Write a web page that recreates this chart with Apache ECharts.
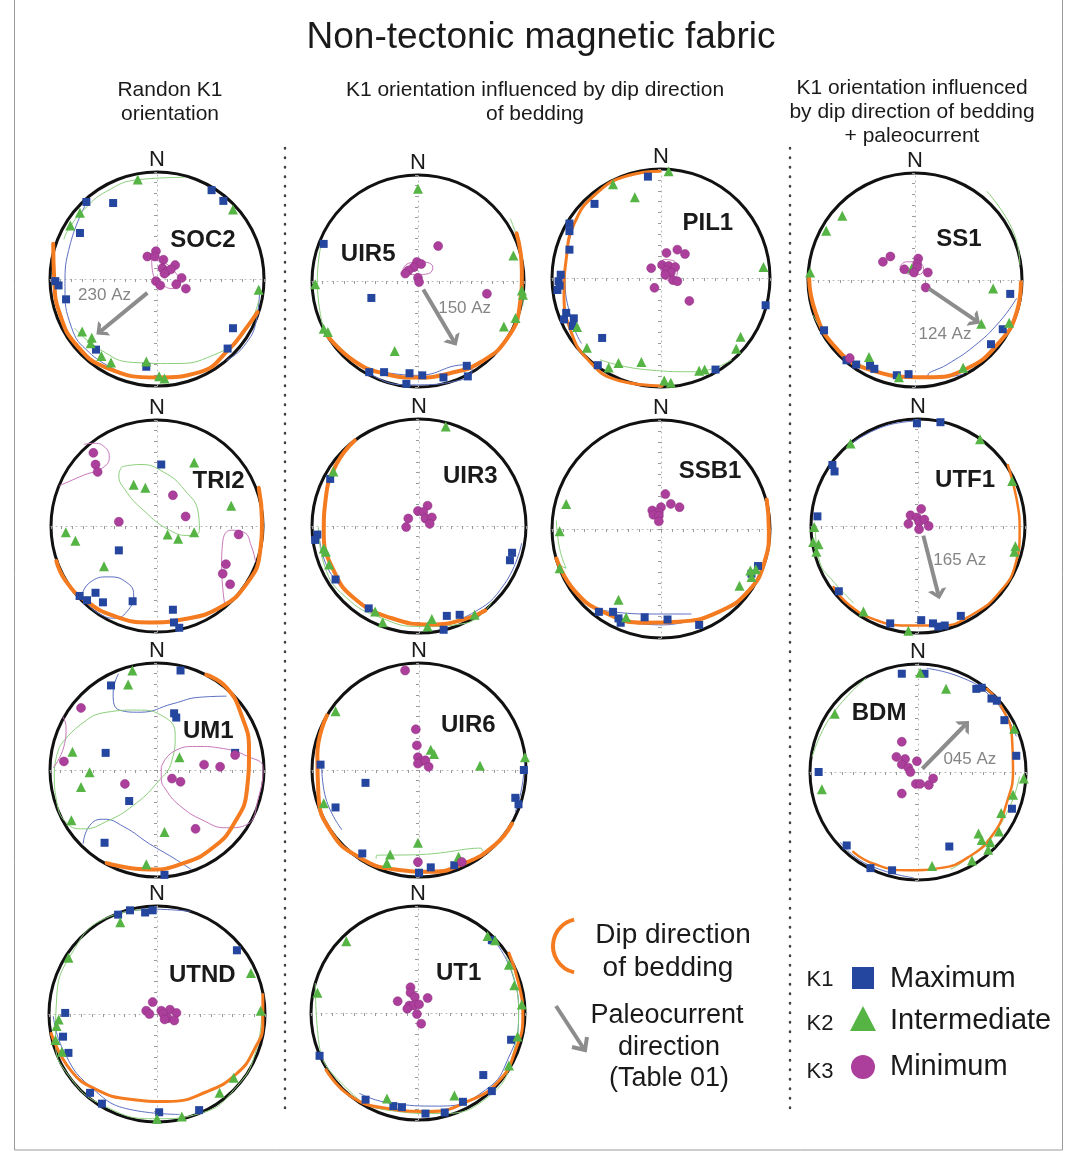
<!DOCTYPE html>
<html>
<head>
<meta charset="utf-8">
<script src="https://cdn.jsdelivr.net/npm/echarts@6/dist/echarts.min.js"></script>
<style>
  html, body { margin: 0; padding: 0; background: #fff; }
  #chart { width: 1074px; height: 1163px; }
</style>
</head>
<body>
<div id="chart"></div>
<script>
// points are [east, north] on the unit stereonet
// K1 = maximum, K2 = intermediate, K3 = minimum, BED = dip direction of bedding, CONF = thin confidence curves

const SOC2_K1 = [[0.51,0.83],[0.62,0.73],[-0.66,0.72],[-0.41,0.71],[-0.72,0.43],[-0.95,-0.02],[-0.92,-0.06],[-0.85,-0.19],[0.71,-0.46],[0.66,-0.65],[-0.57,-0.66],[-0.10,-0.82]]
const SOC2_K2 = [[-0.18,0.93],[0.71,0.65],[-0.72,0.62],[-0.81,0.50],[0.95,-0.10],[-0.70,-0.49],[-0.61,-0.55],[-0.62,-0.60],[-0.52,-0.72],[-0.43,-0.78],[-0.10,-0.77],[0.02,-0.91],[0.07,-0.93]]
const SOC2_K3 = [[-0.01,0.26],[-0.09,0.21],[-0.02,0.21],[0.06,0.18],[0.17,0.13],[0.05,0.10],[0.09,0.07],[0.13,0.09],[0.07,0.05],[0.23,0.01],[-0.01,-0.02],[0.03,-0.06],[0.18,-0.05],[0.27,-0.09]]
const SOC2_BED = [[-0.97,0.33],[-0.96,-0.01],[-0.91,-0.32],[-0.75,-0.62],[-0.47,-0.83],[0.0,-0.92],[0.40,-0.87],[0.67,-0.66],[0.84,-0.45],[0.94,-0.31]]
const SOC2_K1_CONF = [[[-0.66,0.71],[-0.81,0.33],[-0.86,-0.07],[-0.80,-0.45],[-0.63,-0.69],[-0.38,-0.85]],[[0.96,-0.07],[0.93,-0.38],[0.81,-0.63],[0.65,-0.76]]]
const SOC2_K2_CONF = [[[0.25,0.95],[-0.16,0.93],[-0.47,0.82],[-0.69,0.64],[-0.83,0.46],[-0.87,0.37]],[[-0.77,-0.46],[-0.53,-0.66],[-0.22,-0.78],[0.15,-0.79],[0.53,-0.71],[0.81,-0.51],[0.95,-0.20]]]
const SOC2_K3_CONF = [[[-0.05,0.18],[0.05,0.16],[0.18,0.05],[0.22,-0.04],[0.15,-0.09],[0.05,-0.05],[-0.04,0.06],[-0.05,0.18]]]
const SOC2_ARROW = [[-0.09,-0.13],[-0.53,-0.49]]
const SOC2_AZ = 230

const UIR5_K1 = [[-0.89,0.35],[-0.44,-0.16],[-0.46,-0.86],[-0.32,-0.86],[-0.08,-0.87],[0.04,-0.89],[0.24,-0.91],[0.46,-0.80],[0.47,-0.90],[-0.11,-0.97]]
const UIR5_K2 = [[0.00,0.87],[-0.97,-0.03],[0.90,0.24],[0.98,-0.09],[0.99,-0.13],[0.92,-0.35],[0.81,-0.43],[-0.89,-0.45],[-0.85,-0.48],[-0.22,-0.66]]
const UIR5_K3 = [[0.19,0.33],[0.65,-0.12],[-0.01,0.18],[0.03,0.16],[-0.04,0.13],[-0.09,0.10],[-0.12,0.07],[0.00,0.03],[0.01,-0.01]]
const UIR5_BED = [[0.93,0.45],[0.98,0.09],[0.96,-0.23],[0.85,-0.53],[0.60,-0.76],[0.30,-0.87],[-0.01,-0.91],[-0.33,-0.87],[-0.61,-0.75],[-0.86,-0.51]]
const UIR5_K1_CONF = [[[-0.47,-0.83],[-0.01,-0.89],[0.46,-0.79],[0.51,-0.81],[0.46,-0.92],[-0.11,-0.98],[-0.45,-0.88],[-0.47,-0.83]]]
const UIR5_K2_CONF = [[[-0.91,0.37],[-0.95,0.0],[-0.89,-0.46]],[[0.87,0.59],[0.98,0.15],[0.99,-0.23]]]
const UIR5_K3_CONF = [[[-0.14,0.12],[-0.08,0.17],[0.04,0.18],[0.14,0.13],[0.10,0.07],[-0.02,0.06],[-0.12,0.08],[-0.14,0.12]]]
const UIR5_ARROW = [[0.05,-0.08],[0.34,-0.57]]
const UIR5_AZ = 150

const PIL1_K1 = [[-0.12,0.93],[-0.61,0.68],[-0.84,0.50],[-0.84,0.43],[-0.84,0.26],[-0.92,0.03],[-0.94,-0.03],[-0.93,-0.07],[-0.95,-0.11],[-0.87,-0.32],[-0.89,-0.38],[-0.80,-0.37],[-0.81,-0.44],[-0.54,-0.55],[-0.58,-0.80],[0.50,-0.84],[0.96,-0.25]]
const PIL1_K2 = [[0.07,0.98],[-0.44,0.86],[-0.24,0.74],[0.94,0.10],[-0.77,-0.45],[-0.68,-0.64],[-0.48,-0.82],[-0.39,-0.78],[-0.18,-0.77],[0.03,-0.94],[0.09,-0.96],[0.35,-0.85],[0.40,-0.84],[0.69,-0.65],[0.73,-0.54]]
const PIL1_K3 = [[0.05,0.23],[0.15,0.26],[0.22,0.22],[-0.09,0.09],[0.01,0.12],[0.07,0.11],[0.13,0.10],[0.05,0.07],[0.09,0.05],[0.04,0.03],[0.11,-0.02],[0.15,-0.03],[-0.06,-0.09],[0.26,-0.21]]
const PIL1_BED = [[-0.01,0.98],[-0.30,0.94],[-0.61,0.76],[-0.80,0.49],[-0.87,0.17],[-0.89,-0.14],[-0.83,-0.48],[-0.67,-0.75],[-0.39,-0.94],[0.01,-0.99]]
const PIL1_K1_CONF = [[[-0.79,0.53],[-0.88,0.01],[-0.82,-0.39],[-0.73,-0.60]]]
const PIL1_K2_CONF = [[[-0.56,-0.75],[-0.15,-0.84],[0.31,-0.86],[0.65,-0.75]]]
const PIL1_K3_CONF = [[[0.02,0.17],[0.13,0.15],[0.15,0.05],[0.08,-0.02],[0.01,0.02],[0.0,0.12],[0.02,0.17]]]

const SS1_K1 = [[0.89,-0.13],[0.82,-0.46],[0.71,-0.60],[-0.85,-0.47],[-0.64,-0.75],[-0.55,-0.79],[-0.42,-0.80],[-0.38,-0.83],[-0.17,-0.89],[-0.06,-0.88]]
const SS1_K2 = [[-0.68,0.60],[-0.83,0.46],[-0.98,0.07],[-0.03,0.11],[0.73,-0.08],[0.62,-0.41],[0.88,-0.40],[-0.43,-0.72],[-0.15,-0.91],[0.45,-0.82]]
const SS1_K3 = [[-0.30,0.17],[-0.23,0.22],[0.03,0.20],[0.02,0.15],[0.02,0.12],[-0.10,0.10],[-0.01,0.07],[0.12,0.07],[0.10,-0.07],[-0.61,-0.73]]
const SS1_BED = [[-0.99,0.02],[-0.93,-0.30],[-0.76,-0.61],[-0.45,-0.83],[0.11,-0.91],[0.48,-0.83],[0.79,-0.58],[0.95,-0.30],[0.99,-0.02]]
const SS1_K1_CONF = [[[0.95,-0.17],[0.79,-0.39],[0.55,-0.62],[0.30,-0.79],[0.12,-0.89],[0.23,-0.91],[0.45,-0.88]]]
const SS1_K2_CONF = [[[0.67,0.83],[0.92,0.45],[0.98,0.14]],[[-0.95,-0.33],[-0.70,-0.67],[-0.30,-0.87]]]
const SS1_K3_CONF = [[[-0.14,0.13],[-0.08,0.17],[0.02,0.17],[0.08,0.10],[0.03,0.05],[-0.08,0.06],[-0.14,0.13]]]
const SS1_ARROW = [[0.13,-0.08],[0.57,-0.38]]
const SS1_AZ = 124

const TRI2_K1 = [[0.04,0.58],[-0.36,-0.23],[-0.58,-0.63],[-0.73,-0.66],[-0.66,-0.70],[-0.51,-0.72],[-0.23,-0.71],[0.15,-0.79],[0.16,-0.91],[0.21,-0.96]]
const TRI2_K2 = [[0.35,0.60],[-0.22,0.39],[-0.11,0.36],[0.70,0.19],[-0.86,-0.06],[-0.77,-0.14],[0.10,-0.08],[0.20,-0.12],[0.35,-0.06],[-0.50,-0.38]]
const TRI2_K3 = [[-0.60,0.69],[-0.58,0.58],[-0.56,0.51],[0.15,0.29],[0.27,0.09],[-0.36,0.04],[0.77,-0.08],[0.65,-0.36],[0.62,-0.45],[0.69,-0.55]]
const TRI2_BED = [[0.96,0.36],[0.99,0.06],[0.97,-0.26],[0.85,-0.54],[0.61,-0.76],[0.25,-0.88],[-0.07,-0.91],[-0.40,-0.85],[-0.68,-0.70],[-0.86,-0.52],[-0.95,-0.33]]
const TRI2_K1_CONF = [[[-0.71,-0.65],[-0.63,-0.53],[-0.46,-0.48],[-0.29,-0.53],[-0.22,-0.65],[-0.27,-0.79],[-0.40,-0.87],[-0.54,-0.83],[-0.66,-0.73],[-0.71,-0.65]]]
const TRI2_K2_CONF = [[[-0.33,0.56],[-0.16,0.58],[0.06,0.51],[0.26,0.34],[0.39,0.12],[0.40,-0.04],[0.31,-0.09],[0.12,-0.04],[-0.13,0.15],[-0.30,0.34],[-0.36,0.48],[-0.33,0.56]]]
const TRI2_K3_CONF = [[[-0.92,0.38],[-0.69,0.48],[-0.51,0.55],[-0.45,0.65],[-0.50,0.75],[-0.60,0.78],[-0.69,0.77]],[[0.64,-0.75],[0.61,-0.38],[0.62,-0.15],[0.70,-0.04],[0.82,-0.06],[0.89,-0.19],[0.93,-0.34]]]

const UIR3_K1 = [[-0.83,0.44],[-0.95,-0.08],[-0.97,-0.13],[-0.78,-0.50],[-0.47,-0.77],[0.87,-0.25],[0.85,-0.32],[0.26,-0.84],[0.38,-0.83],[0.23,-0.97]]
const UIR3_K2 = [[0.25,0.93],[-0.80,0.51],[-0.89,-0.21],[-0.87,-0.24],[-0.84,-0.36],[-0.41,-0.80],[-0.34,-0.90],[0.12,-0.87],[0.08,-0.94],[0.52,-0.83]]
const UIR3_K3 = [[0.08,0.19],[-0.01,0.14],[0.04,0.13],[-0.10,0.07],[0.06,0.07],[0.12,0.08],[0.10,0.02],[-0.12,-0.01]]
const UIR3_BED = [[-0.60,0.80],[-0.77,0.58],[-0.87,0.27],[-0.89,-0.07],[-0.80,-0.41],[-0.60,-0.68],[-0.26,-0.86],[0.12,-0.92],[0.43,-0.87],[0.62,-0.79]]
const UIR3_K1_CONF = [[[0.96,-0.16],[0.80,-0.54],[0.49,-0.82],[0.12,-0.93]],[[-0.94,-0.02],[-0.86,-0.38],[-0.67,-0.62]]]
const UIR3_K2_CONF = [[[-0.94,-0.01],[-0.88,-0.38],[-0.69,-0.66],[-0.35,-0.86],[0.02,-0.94],[0.43,-0.91],[0.68,-0.71]]]

const SSB1_K1 = [[-0.57,-0.76],[-0.44,-0.76],[-0.39,-0.82],[-0.37,-0.86],[-0.15,-0.81],[0.06,-0.83],[0.35,-0.88],[0.83,-0.41],[0.89,-0.34]]
const SSB1_K2 = [[-0.87,0.23],[-0.93,-0.02],[-0.93,-0.36],[-0.39,-0.65],[-0.32,-0.81],[0.72,-0.52],[0.82,-0.38],[0.87,-0.37],[0.83,-0.44]]
const SSB1_K3 = [[0.04,0.32],[0.09,0.23],[0.17,0.20],[0.00,0.20],[-0.08,0.17],[-0.02,0.15],[-0.07,0.13],[-0.02,0.12],[-0.02,0.07]]
const SSB1_BED = [[0.97,0.27],[0.99,-0.02],[0.95,-0.30],[0.81,-0.56],[0.53,-0.76],[0.16,-0.85],[-0.15,-0.86],[-0.51,-0.77],[-0.79,-0.57],[-0.96,-0.27]]
const SSB1_K1_CONF = [[[-0.57,-0.74],[-0.15,-0.78],[0.28,-0.78]],[[-0.36,-0.85],[0.01,-0.88],[0.31,-0.83]]]
const SSB1_K2_CONF = [[[-0.96,0.08],[-0.93,-0.18],[-0.87,-0.36],[-0.94,-0.33]]]

const UTF1_K1 = [[-0.01,0.96],[0.21,0.97],[-0.80,0.57],[-0.78,0.51],[-0.94,0.09],[-0.74,-0.61],[-0.26,-0.91],[0.03,-0.88],[0.14,-0.91],[0.19,-0.94],[0.25,-0.93],[0.40,-0.84]]
const UTF1_K2 = [[-0.63,0.77],[0.58,0.81],[0.88,0.42],[0.91,-0.19],[0.90,-0.24],[-0.97,-0.01],[-0.98,-0.15],[-0.93,-0.17],[-0.95,-0.24],[-0.51,-0.80],[-0.09,-0.98]]
const UTF1_K3 = [[0.03,0.16],[-0.07,0.10],[-0.01,0.08],[-0.09,0.02],[0.01,0.04],[0.06,0.06],[0.10,0.00],[0.01,-0.03]]
const UTF1_BED = [[0.84,0.57],[0.92,0.26],[0.95,-0.05],[0.91,-0.36],[0.77,-0.61],[0.52,-0.82],[0.21,-0.93],[-0.11,-0.93],[-0.39,-0.88],[-0.64,-0.74],[-0.79,-0.57]]
const UTF1_K1_CONF = [[[-0.64,0.76],[-0.32,0.93],[-0.01,0.98]]]
const UTF1_K2_CONF = [[[-0.96,-0.02],[-0.92,-0.33],[-0.79,-0.52],[-0.60,-0.72]],[[0.91,-0.15],[0.92,-0.33]]]
const UTF1_ARROW = [[0.05,-0.09],[0.19,-0.64]]
const UTF1_AZ = 165

const UM1_K1 = [[0.22,0.93],[-0.43,0.79],[0.16,0.53],[0.18,0.49],[-0.48,0.16],[0.73,0.16],[-0.26,-0.29],[-0.49,-0.68],[0.07,-0.98]]
const UM1_K2 = [[-0.23,0.93],[-0.27,0.80],[-0.79,0.17],[-0.63,-0.02],[-0.71,-0.16],[0.21,0.12],[-0.80,-0.47],[0.07,-0.58],[-0.10,-0.88]]
const UM1_K3 = [[-0.71,0.58],[-0.87,0.08],[-0.30,-0.13],[0.14,-0.08],[0.22,-0.11],[0.44,0.05],[0.59,0.03],[0.73,0.14],[0.36,-0.55]]
const UM1_BED = [[0.46,0.89],[0.65,0.77],[0.79,0.51],[0.86,0.19],[0.84,-0.19],[0.72,-0.50],[0.53,-0.72],[0.25,-0.87],[-0.07,-0.93],[-0.47,-0.87]]
const UM1_K1_CONF = [[[-0.36,0.90],[-0.41,0.72],[-0.35,0.56],[-0.16,0.54],[0.15,0.62],[0.40,0.68],[0.65,0.69]],[[-0.69,-0.69],[-0.63,-0.52],[-0.50,-0.46],[-0.31,-0.53],[-0.07,-0.69],[0.15,-0.82],[0.32,-0.93]]]
const UM1_K2_CONF = [[[-0.91,0.22],[-0.72,0.42],[-0.47,0.54],[-0.19,0.56],[0.06,0.50],[0.17,0.33],[0.14,0.09],[0.00,-0.12],[-0.22,-0.33],[-0.47,-0.48],[-0.69,-0.55],[-0.84,-0.50],[-0.94,-0.28],[-0.96,-0.03],[-0.91,0.22]]]
const UM1_K3_CONF = [[[0.04,0.03],[0.15,0.17],[0.37,0.22],[0.62,0.20],[0.84,0.13],[0.99,0.02],[0.95,-0.25],[0.84,-0.51],[0.65,-0.54],[0.43,-0.47],[0.21,-0.33],[0.08,-0.18],[0.04,-0.08],[0.04,0.03]],[[-0.97,0.02],[-0.87,0.22],[-0.85,0.40],[-0.88,0.50]]]

const UIR6_K1 = [[-0.92,0.05],[-0.50,-0.12],[-0.78,-0.35],[0.98,0.00],[0.90,-0.26],[0.93,-0.32],[-0.53,-0.78],[0.00,-0.96],[0.11,-0.91],[0.33,-0.89]]
const UIR6_K2 = [[-0.78,0.55],[0.11,0.19],[0.14,0.15],[0.57,0.04],[0.99,0.12],[-0.89,-0.31],[-0.01,-0.68],[-0.27,-0.79],[-0.30,-0.87],[0.37,-0.81]]
const UIR6_K3 = [[-0.13,0.93],[-0.03,0.38],[-0.02,0.23],[-0.01,0.12],[0.02,0.08],[-0.01,0.06],[0.06,0.09],[0.09,0.03],[-0.01,-0.86],[0.40,-0.86]]
const UIR6_BED = [[-0.86,0.51],[-0.95,0.14],[-0.94,-0.23],[-0.82,-0.58],[-0.57,-0.81],[-0.22,-0.93],[0.12,-0.95],[0.43,-0.87],[0.71,-0.70],[0.87,-0.50]]
const UIR6_K1_CONF = [[[-0.91,0.05],[-0.88,-0.23],[-0.72,-0.56]],[[0.99,0.11],[0.96,-0.17],[0.90,-0.39]]]
const UIR6_K2_CONF = [[[-0.40,-0.83],[-0.40,-0.80],[0.02,-0.79],[0.58,-0.73],[0.59,-0.76]]]

const BDM_K1 = [[-0.15,0.91],[0.06,0.91],[0.54,0.77],[0.59,0.78],[0.68,0.68],[0.73,0.66],[0.80,0.48],[0.91,0.15],[-0.92,0.00],[0.87,-0.34],[0.29,-0.69],[-0.66,-0.68],[-0.44,-0.89],[-0.24,-0.91]]
const BDM_K2 = [[0.02,0.92],[0.26,0.77],[-0.77,0.54],[0.89,0.40],[0.98,-0.06],[-0.89,-0.16],[0.88,-0.21],[0.77,-0.38],[0.75,-0.55],[0.56,-0.57],[0.59,-0.63],[0.67,-0.65],[0.65,-0.72],[0.50,-0.82],[0.13,-0.87]]
const BDM_K3 = [[-0.15,0.28],[-0.20,0.14],[-0.12,0.12],[-0.01,0.10],[-0.15,0.07],[-0.09,0.04],[-0.07,0.00],[-0.02,-0.11],[0.02,-0.11],[0.10,-0.12],[0.14,-0.06],[-0.15,-0.20]]
const BDM_BED = [[0.64,0.77],[0.78,0.59],[0.87,0.32],[0.88,0.02],[0.82,-0.29],[0.70,-0.57],[0.48,-0.78],[0.20,-0.89],[-0.10,-0.91],[-0.41,-0.85],[-0.60,-0.74]]
const BDM_K1_CONF = [[[0.08,0.96],[0.39,0.88],[0.64,0.73],[0.82,0.51],[0.91,0.33]],[[-0.72,-0.65],[-0.48,-0.85],[-0.04,-0.98]]]
const BDM_K2_CONF = [[[-0.98,0.14],[-0.81,0.51],[-0.48,0.87]],[[0.94,-0.04],[0.85,-0.32],[0.67,-0.60],[0.39,-0.85],[0.30,-0.90]]]
const BDM_ARROW = [[0.04,0.03],[0.44,0.44]]
const BDM_AZ = 45

const UTND_K1 = [[-0.36,0.92],[-0.25,0.96],[-0.11,0.94],[-0.04,0.96],[0.74,0.59],[-0.85,0.01],[-0.87,-0.21],[-0.82,-0.36],[-0.62,-0.73],[-0.51,-0.83],[0.02,-0.91],[0.39,-0.89]]
const UTND_K2 = [[-0.34,0.85],[-0.82,0.52],[0.87,0.38],[0.96,0.03],[-0.91,-0.05],[-0.93,-0.11],[-0.94,-0.24],[-0.88,-0.35],[0.71,-0.59],[0.58,-0.73],[0.23,-0.95],[0.00,-0.97]]
const UTND_K3 = [[-0.04,0.11],[-0.10,0.03],[-0.07,0.00],[0.04,0.03],[0.12,0.04],[0.18,0.01],[0.06,0.00],[0.10,-0.04],[0.07,-0.05],[0.16,-0.06]]
const UTND_BED = [[0.98,0.18],[0.98,-0.09],[0.90,-0.33],[0.74,-0.55],[0.46,-0.72],[0.09,-0.81],[-0.25,-0.79],[-0.56,-0.70],[-0.80,-0.52],[-0.98,-0.18]]
const UTND_K1_CONF = [[[-0.37,0.93],[-0.03,0.97],[0.31,0.95]],[[-0.96,-0.02],[-0.87,-0.33],[-0.62,-0.67],[-0.22,-0.89],[0.21,-0.93]]]
const UTND_K2_CONF = [[[-0.06,0.97],[-0.47,0.89],[-0.79,0.56],[-0.93,0.13],[-0.94,-0.24],[-0.81,-0.58],[-0.47,-0.86],[0.00,-0.97],[0.40,-0.92],[0.74,-0.67],[0.92,-0.33],[0.97,0.01]]]

const UT1_K1 = [[0.69,0.68],[0.87,-0.25],[0.61,-0.58],[0.69,-0.73],[0.42,-0.83],[-0.92,-0.40],[-0.49,-0.81],[-0.23,-0.87],[-0.15,-0.88],[0.07,-0.94],[0.25,-0.93]]
const UT1_K2 = [[0.65,0.72],[0.72,0.68],[-0.67,0.67],[0.85,0.45],[0.90,0.26],[0.97,0.08],[0.93,-0.22],[0.85,-0.49],[-0.94,0.19],[-0.29,-0.80],[0.34,-0.77]]
const UT1_K3 = [[-0.07,0.24],[-0.07,0.19],[-0.19,0.11],[-0.03,0.15],[0.09,0.14],[-0.08,0.07],[-0.04,0.07],[0.01,0.08],[-0.10,0.04],[-0.01,-0.01],[0.03,-0.10]]
const UT1_BED = [[0.85,0.56],[0.94,0.28],[0.98,-0.03],[0.91,-0.35],[0.76,-0.63],[0.48,-0.82],[0.10,-0.92],[-0.30,-0.89],[-0.64,-0.77],[-0.86,-0.53]]
const UT1_K1_CONF = [[[0.69,0.71],[0.88,0.37],[0.94,-0.03],[0.85,-0.41],[0.63,-0.72],[0.20,-0.87],[-0.27,-0.84],[-0.55,-0.75]]]
const UT1_K2_CONF = [[[-0.96,0.28],[-0.93,-0.25],[-0.68,-0.69],[-0.27,-0.91],[0.20,-0.94],[0.66,-0.78],[0.88,-0.41],[0.94,0.06],[0.82,0.53]]]

// layout of each stereonet on the page (pixels) and where its labels sit (unit coords)
const NETS = [
  { id: 'SOC2', cx: 157, cy: 279, r: 107, bedW: 4, tag: [0.43, 0.36], azTag: [-0.49, -0.15], k1: SOC2_K1, k2: SOC2_K2, k3: SOC2_K3, bed: SOC2_BED, c1: SOC2_K1_CONF, c2: SOC2_K2_CONF, c3: SOC2_K3_CONF, arrow: SOC2_ARROW, az: SOC2_AZ },
  { id: 'UIR5', cx: 418, cy: 281, r: 106, bedW: 4, tag: [-0.47, 0.25], azTag: [0.44, -0.26], k1: UIR5_K1, k2: UIR5_K2, k3: UIR5_K3, bed: UIR5_BED, c1: UIR5_K1_CONF, c2: UIR5_K2_CONF, c3: UIR5_K3_CONF, arrow: UIR5_ARROW, az: UIR5_AZ },
  { id: 'PIL1', cx: 661, cy: 278, r: 109, bedW: 3, tag: [0.43, 0.50], k1: PIL1_K1, k2: PIL1_K2, k3: PIL1_K3, bed: PIL1_BED, c1: PIL1_K1_CONF, c2: PIL1_K2_CONF, c3: PIL1_K3_CONF },
  { id: 'SS1', cx: 915, cy: 280, r: 107, bedW: 4, tag: [0.41, 0.38], azTag: [0.28, -0.51], k1: SS1_K1, k2: SS1_K2, k3: SS1_K3, bed: SS1_BED, c1: SS1_K1_CONF, c2: SS1_K2_CONF, c3: SS1_K3_CONF, arrow: SS1_ARROW, az: SS1_AZ },
  { id: 'TRI2', cx: 157, cy: 526, r: 106, bedW: 4, tag: [0.58, 0.42], k1: TRI2_K1, k2: TRI2_K2, k3: TRI2_K3, bed: TRI2_BED, c1: TRI2_K1_CONF, c2: TRI2_K2_CONF, c3: TRI2_K3_CONF },
  { id: 'UIR3', cx: 419, cy: 526, r: 107, bedW: 4, tag: [0.48, 0.46], k1: UIR3_K1, k2: UIR3_K2, k3: UIR3_K3, bed: UIR3_BED, c1: UIR3_K1_CONF, c2: UIR3_K2_CONF },
  { id: 'SSB1', cx: 661, cy: 529, r: 109, bedW: 4, tag: [0.45, 0.53], k1: SSB1_K1, k2: SSB1_K2, k3: SSB1_K3, bed: SSB1_BED, c1: SSB1_K1_CONF, c2: SSB1_K2_CONF },
  { id: 'UTF1', cx: 918, cy: 526, r: 107, bedW: 2.5, tag: [0.44, 0.43], azTag: [0.39, -0.32], k1: UTF1_K1, k2: UTF1_K2, k3: UTF1_K3, bed: UTF1_BED, c1: UTF1_K1_CONF, c2: UTF1_K2_CONF, arrow: UTF1_ARROW, az: UTF1_AZ },
  { id: 'UM1', cx: 157, cy: 770, r: 107, bedW: 4, tag: [0.48, 0.36], k1: UM1_K1, k2: UM1_K2, k3: UM1_K3, bed: UM1_BED, c1: UM1_K1_CONF, c2: UM1_K2_CONF, c3: UM1_K3_CONF },
  { id: 'UIR6', cx: 419, cy: 770, r: 107, bedW: 4, tag: [0.46, 0.42], k1: UIR6_K1, k2: UIR6_K2, k3: UIR6_K3, bed: UIR6_BED, c1: UIR6_K1_CONF, c2: UIR6_K2_CONF },
  { id: 'BDM', cx: 918, cy: 772, r: 108, bedW: 2.5, tag: [-0.36, 0.54], azTag: [0.48, 0.12], k1: BDM_K1, k2: BDM_K2, k3: BDM_K3, bed: BDM_BED, c1: BDM_K1_CONF, c2: BDM_K2_CONF, arrow: BDM_ARROW, az: BDM_AZ },
  { id: 'UTND', cx: 157, cy: 1014, r: 108, bedW: 3, tag: [0.42, 0.36], k1: UTND_K1, k2: UTND_K2, k3: UTND_K3, bed: UTND_BED, c1: UTND_K1_CONF, c2: UTND_K2_CONF },
  { id: 'UT1', cx: 418, cy: 1013, r: 107, bedW: 3, tag: [0.38, 0.37], k1: UT1_K1, k2: UT1_K2, k3: UT1_K3, bed: UT1_BED, c1: UT1_K1_CONF, c2: UT1_K2_CONF }
]

const BLUE = '#24469e'
const GREEN = '#55b444'
const MAGENTA = '#ac3f9c'
const ORANGE = '#f47b20'
const GRAY = '#8c8c8c'
const THIN = { 1: '#5b6fc2', 2: '#8ccf7c', 3: '#c777ba' }
const FONT = "'Liberation Sans', Arial, Helvetica, sans-serif"
const CHEVRON = 'path://M10,0 L20,10 L15,10 L10,5 L5,10 L0,10 Z'

const grid = []
const xAxis = []
const yAxis = []
const polar = []
const angleAxis = []
const radiusAxis = []
const series = []

function axisOf (i) {
  return {
    gridIndex: i,
    type: 'value',
    min: -1,
    max: 1,
    interval: 0.1,
    axisLine: { onZero: true, lineStyle: { color: '#b8b8b8', width: 1, type: [1, 4] } },
    axisTick: { show: true, length: 3, lineStyle: { color: '#9a9a9a', width: 1 } },
    axisLabel: { show: false },
    splitLine: { show: false }
  }
}

function textSeries (i, pt, text, style) {
  return {
    type: 'scatter',
    xAxisIndex: i,
    yAxisIndex: i,
    silent: true,
    z: 8,
    symbolSize: 1,
    itemStyle: { color: 'rgba(0,0,0,0)', opacity: 1 },
    label: Object.assign({ show: true, position: 'inside', formatter: text, fontFamily: FONT, opacity: 1 }, style),
    data: [pt]
  }
}

NETS.forEach((n, i) => {
  grid.push({ left: n.cx - n.r, top: n.cy - n.r, width: 2 * n.r, height: 2 * n.r })
  xAxis.push(axisOf(i))
  yAxis.push(axisOf(i))
  polar.push({ center: [n.cx, n.cy], radius: n.r })
  angleAxis.push({
    polarIndex: i, type: 'value', min: 0, max: 360, startAngle: 90,
    axisLine: { lineStyle: { color: '#111', width: 3 } },
    axisTick: { show: false }, axisLabel: { show: false }, splitLine: { show: false }
  })
  radiusAxis.push({ polarIndex: i, type: 'value', min: 0, max: 1, show: false })

  // thin confidence curves
  ;[[n.c1, 1], [n.c2, 2], [n.c3, 3]].forEach(([segs, k]) => {
    (segs || []).forEach(seg => {
      series.push({
        type: 'line', xAxisIndex: i, yAxisIndex: i, data: seg, smooth: 0.5,
        showSymbol: false, symbol: 'none', silent: true, z: 2,
        lineStyle: { color: THIN[k], width: 1 }
      })
    })
  })

  // dip direction of bedding
  series.push({
    type: 'line', xAxisIndex: i, yAxisIndex: i, data: n.bed, smooth: 0.5,
    showSymbol: false, symbol: 'none', silent: true, z: 3,
    lineStyle: { color: ORANGE, width: n.bedW, cap: 'round' }
  })

  // paleocurrent arrow
  if (n.arrow) {
    const dx = n.arrow[1][0] - n.arrow[0][0]
    const dy = n.arrow[1][1] - n.arrow[0][1]
    const rot = Math.atan2(dy, dx) * 180 / Math.PI - 90
    series.push({
      type: 'line', xAxisIndex: i, yAxisIndex: i, silent: true, z: 6,
      lineStyle: { color: GRAY, width: 4 },
      itemStyle: { color: GRAY, opacity: 1 },
      showSymbol: true,
      data: [
        { value: n.arrow[0], symbol: 'none' },
        { value: n.arrow[1], symbol: CHEVRON, symbolSize: [19, 10], symbolRotate: rot }
      ]
    })
    series.push(textSeries(i, n.azTag, String(n.az).padStart(3, '0') + ' Az', { color: '#858585', fontSize: 17 }))
  }

  series.push({
    type: 'scatter', xAxisIndex: i, yAxisIndex: i, data: n.k1, symbol: 'rect', symbolSize: 8, z: 5,
    itemStyle: { color: BLUE, opacity: 1 }
  })
  series.push({
    type: 'scatter', xAxisIndex: i, yAxisIndex: i, data: n.k2, symbol: 'triangle', symbolSize: 10, z: 5,
    itemStyle: { color: GREEN, opacity: 1 }
  })
  series.push({
    type: 'scatter', xAxisIndex: i, yAxisIndex: i, data: n.k3, symbol: 'circle', symbolSize: 9, z: 5,
    itemStyle: { color: MAGENTA, borderColor: '#8a2f7c', borderWidth: 0.5, opacity: 1 }
  })

  series.push(textSeries(i, n.tag, n.id, { color: '#1a1a1a', fontSize: 24, fontWeight: 'bold' }))
})

function txt (x, y, text, size, opts) {
  return {
    type: 'text', x, y, silent: true, z: 10,
    style: Object.assign({
      text, fill: '#1a1a1a', fontSize: size, fontFamily: FONT,
      align: 'center', verticalAlign: 'middle', textAlign: 'center', textVerticalAlign: 'middle'
    }, opts || {})
  }
}

const graphic = [
  { type: 'rect', silent: true, shape: { x: 14.5, y: -5, width: 1048, height: 1155 }, style: { fill: null, stroke: '#9a9a9a', lineWidth: 1 } },
  txt(541, 38, 'Non-tectonic magnetic fabric', 37),
  txt(170, 90, 'Randon K1', 21),
  txt(170, 114, 'orientation', 21),
  txt(535, 90, 'K1 orientation influenced by dip direction', 21),
  txt(535, 114, 'of bedding', 21),
  txt(912, 88, 'K1 orientation influenced', 21),
  txt(912, 112, 'by dip direction of bedding', 21),
  txt(912, 136, '+ paleocurrent', 21),
  { type: 'line', silent: true, shape: { x1: 285, y1: 148, x2: 285, y2: 1108 }, style: { stroke: '#444', lineWidth: 2.5, lineDash: [0.5, 9], lineCap: 'round' } },
  { type: 'line', silent: true, shape: { x1: 790, y1: 148, x2: 790, y2: 1108 }, style: { stroke: '#444', lineWidth: 2.5, lineDash: [0.5, 9], lineCap: 'round' } },
  // legend
  { type: 'arc', silent: true, shape: { cx: 580, cy: 946, r: 27, startAngle: Math.PI * 0.57, endAngle: Math.PI * 1.43, clockwise: true }, style: { fill: null, stroke: ORANGE, lineWidth: 4 } },
  txt(673, 935, 'Dip direction', 28),
  txt(668, 968, 'of bedding', 28),
  { type: 'polyline', silent: true, shape: { points: [[556, 1006], [584, 1049]] }, style: { fill: null, stroke: GRAY, lineWidth: 4 } },
  { type: 'polyline', silent: true, shape: { points: [[587, 1037], [585, 1050], [572, 1047]] }, style: { fill: null, stroke: GRAY, lineWidth: 4 } },
  txt(667, 1016, 'Paleocurrent', 27),
  txt(669, 1048, 'direction', 27),
  txt(669, 1079, '(Table 01)', 27),
  txt(820, 980, 'K1', 22),
  { type: 'rect', silent: true, shape: { x: 852, y: 967, width: 22, height: 22 }, style: { fill: BLUE } },
  txt(890, 979, 'Maximum', 29, { align: 'left', textAlign: 'left' }),
  txt(820, 1024, 'K2', 22),
  { type: 'polygon', silent: true, shape: { points: [[863, 1006], [876, 1031], [850, 1031]] }, style: { fill: GREEN } },
  txt(890, 1021, 'Intermediate', 29, { align: 'left', textAlign: 'left' }),
  txt(820, 1072, 'K3', 22),
  { type: 'circle', silent: true, shape: { cx: 863, cy: 1067, r: 12 }, style: { fill: MAGENTA } },
  txt(890, 1067, 'Minimum', 29, { align: 'left', textAlign: 'left' })
]

NETS.forEach(n => graphic.push(txt(n.cx, n.cy - n.r - 12, 'N', 22)))

const chart = echarts.init(document.getElementById('chart'))
chart.setOption({
  animation: false,
  backgroundColor: '#fff',
  grid, xAxis, yAxis, polar, angleAxis, radiusAxis, series, graphic
})
</script>
</body>
</html>
